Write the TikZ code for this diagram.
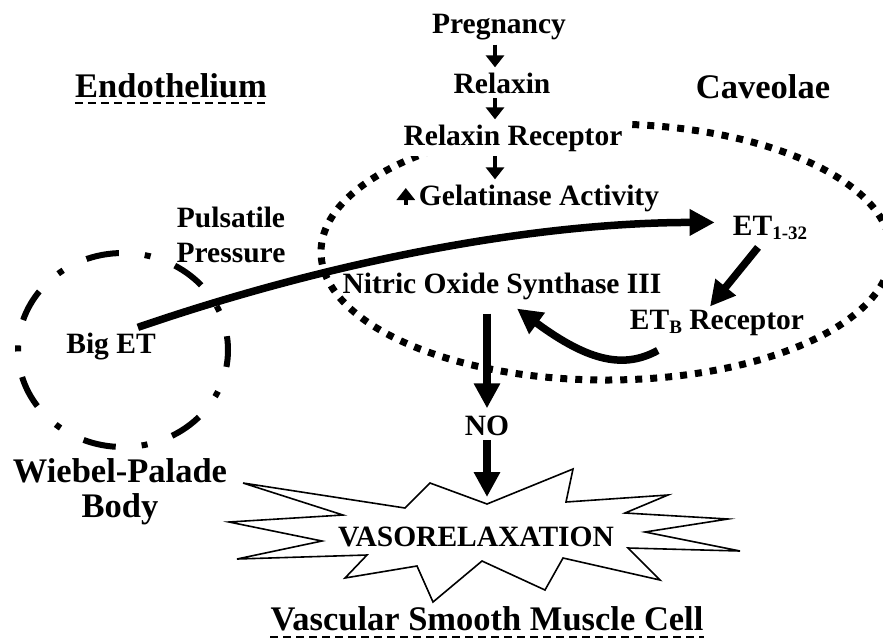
\documentclass[tikz,border=0pt]{standalone}
\usepackage{fontspec}
\setmainfont{Liberation Serif}
\usetikzlibrary{arrows.meta,calc}
\definecolor{VrInk}{RGB}{0,0,0}
\tikzset{
  vr/label/.style={
    font=\bfseries\fontsize{29.5}{35}\selectfont,
    text=VrInk,
    inner sep=0pt,
    anchor=base,
    align=center
  },
  vr/title/.style={
    font=\bfseries\fontsize{34.5}{35}\selectfont,
    text=VrInk,
    inner sep=0pt,
    anchor=base,
    align=center
  },
  vr/flow/.style={vr/label, inner xsep=2pt, inner ysep=5pt},
  vr/bigarrow/.style={-{Triangle[length=25pt,width=25pt]}, line width=7.5pt, draw=VrInk},
  vr/smallarrow/.style={-{Triangle[length=12pt,width=18pt]}, line width=4pt, draw=VrInk},
  vr/underline/.style={line width=2.5pt, dash pattern=on 8pt off 5pt, draw=VrInk},
  vr/caveola/.style={line width=7pt, dash pattern=on 7pt off 8pt, draw=VrInk},
  vr/granule/.style={line width=6pt, dash pattern=on 33pt off 26pt on 6pt off 26pt, dash phase=16pt, draw=VrInk},
  vr/burst/.style={line width=1.6pt, draw=VrInk, fill=white}
}

\begin{document}
\begin{tikzpicture}[x=1pt,y=-1pt]
  \useasboundingbox (0,0) rectangle (883,641);
  % membranes
  \draw[vr/caveola] (606,252) ellipse [x radius=285, y radius=128];
  \draw[vr/granule] (123,350) ellipse [x radius=105, y radius=97];

  % starburst
  \draw[vr/burst] (243,483) -- (405,508) -- (430,483) -- (487,504) -- (573,469)
    -- (566,502) -- (668,495) -- (625,513) -- (728,519) -- (645,532)
    -- (740,551) -- (628,548) -- (660,580) -- (563,558) -- (545,590)
    -- (482,561) -- (433,602) -- (417,566) -- (345,578) -- (367,555)
    -- (237,559) -- (322,541) -- (229,522) -- (343,515) -- cycle;
  \coordinate (notch) at (487,504);
  \node[vr/label] (vaso) at (476,546) {VASORELAXATION};

  \node[vr/flow] (preg) at (499,33) {Pregnancy};
  \node[vr/flow] (relax) at (502,93) {Relaxin};
  \node[vr/flow, fill=white, inner xsep=7pt] (relaxrec) at (513,145) {Relaxin Receptor};
  \node[vr/flow] (gel) at (539,205) {Gelatinase Activity};
  \node[vr/label] (pulse) at (231,262) {Pulsatile\\Pressure};
  \node[vr/label] (nos) at (502,293) {Nitric Oxide Synthase III};
  \node[vr/label] (biget) at (111,353) {Big ET};
  \node[vr/label] (et132) at (770,235) {ET\raisebox{-4pt}{\fontsize{19}{19}\selectfont 1-32}};
  \node[vr/label] (etb) at (717,329) {ET\raisebox{-4pt}{\fontsize{19}{19}\selectfont B} Receptor};
  \node[vr/label] (no) at (487,435) {NO};
  \node[vr/title] (endo) at (171,97) {Endothelium};
  \node[vr/title] (cav) at (763,98) {Caveolae};
  \node[vr/title] (wpb) at (120,517) {Wiebel-Palade\\Body};
  \node[vr/title] (vsmc) at (487,630) {Vascular Smooth Muscle Cell};

  % underlines
  \draw[vr/underline] ($(endo.base west)+(0,6)$) -- ($(endo.base east)+(0,6)$);
  \draw[vr/underline] ($(vsmc.base west)+(0,7)$) -- ($(vsmc.base east)+(0,7)$);

  % relaxin cascade
  \coordinate (ax) at (495,0);
  \foreach \a/\b in {preg/relax,relax/relaxrec,relaxrec/gel}{
    \draw[vr/smallarrow] (\a.south -| ax) -- (\b.north -| ax);
  }
  \draw[vr/smallarrow] ($(gel.base west)+(-11,0)$) -- ($(gel.base west)+(-11,-17)$);

  % endothelin pathway
  \draw[vr/bigarrow] ($(biget.north east)+(-18,-5)$) .. controls +(213,-73) and +(-165,0) .. ($(et132.west)+(-18,-5)$);
  \draw[vr/bigarrow] ($(et132.south)+(-12,8)$) -- ($(etb.north)+(-7,-3)$);
  \draw[vr/bigarrow] ($(etb.south west)+(28,15)$) .. controls +(-33,18) and +(73,54) .. ($(nos.south)+(15,9)$);
  \draw[vr/bigarrow] ($(nos.south -| no.north)+(0,14)$) -- ($(no.north)+(0,-7)$);
  \draw[vr/bigarrow] ($(no.south)+(0,5)$) -- ($(notch)+(0,-7)$);
\end{tikzpicture}
\end{document}
